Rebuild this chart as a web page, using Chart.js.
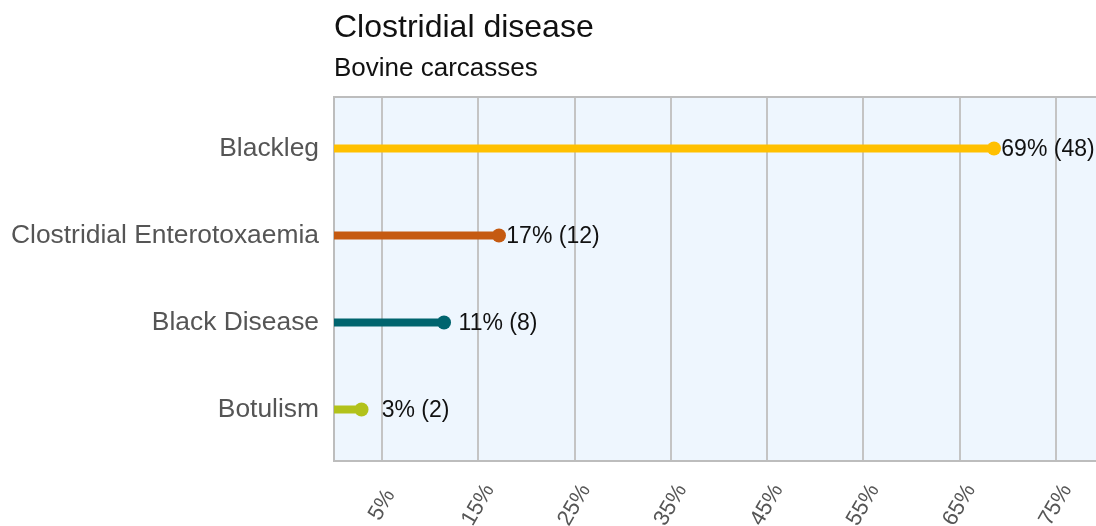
<!DOCTYPE html>
<html>
<head>
<meta charset="utf-8">
<script src="https://cdn.jsdelivr.net/npm/chart.js@4/dist/chart.umd.min.js"></script>
<style>
  html, body { margin: 0; padding: 0; overflow: hidden; background: #fff; }
  #wrap { position: absolute; left: 0; top: 0; width: 1120px; height: 526px; }
</style>
</head>
<body>
<div id="wrap"><canvas id="chart"></canvas></div>
<script>
// Clostridial disease findings in bovine carcasses
const categories = ['Blackleg', 'Clostridial Enterotoxaemia', 'Black Disease', 'Botulism'];
const counts = [48, 12, 8, 2];
const percents = [68.57, 17.14, 11.43, 2.86];
const xTickValues = [5, 15, 25, 35, 45, 55, 65, 75];
const seriesColors = ['#FFC000', '#C55A11', '#00646E', '#B2C21B'];

const FONT = "'Liberation Sans', Arial, Helvetica, sans-serif";

const datasets = categories.map((name, i) => ({
  label: name,
  data: [{ x: 0, y: i }, { x: percents[i], y: i }],
  showLine: true,
  borderColor: seriesColors[i],
  backgroundColor: seriesColors[i],
  borderWidth: 8,
  borderCapStyle: 'butt',
  pointRadius: [0, 7],
  pointHoverRadius: [0, 7],
  pointBorderWidth: 0,
  pointBackgroundColor: seriesColors[i]
}));

// plot panel background and the top / right frame lines
const panelPlugin = {
  id: 'panel',
  beforeDraw(chart) {
    const { ctx, chartArea: a } = chart;
    ctx.save();
    ctx.fillStyle = '#EEF6FE';
    ctx.fillRect(a.left, a.top, a.right - a.left, a.bottom - a.top);
    ctx.restore();
  },
  beforeDatasetsDraw(chart) {
    const { ctx, chartArea: a } = chart;
    ctx.save();
    ctx.strokeStyle = '#BDBDBD';
    ctx.lineWidth = 2;
    ctx.beginPath();
    ctx.moveTo(a.left, a.top);
    ctx.lineTo(a.right, a.top);
    ctx.lineTo(a.right, a.bottom);
    ctx.stroke();
    ctx.restore();
  }
};

// value labels next to each lollipop head
const valueLabelPlugin = {
  id: 'valueLabels',
  afterDatasetsDraw(chart) {
    const { ctx } = chart;
    ctx.save();
    ctx.font = '23px ' + FONT;
    ctx.fillStyle = '#111';
    ctx.textAlign = 'center';
    ctx.textBaseline = 'middle';
    chart.data.datasets.forEach((ds, i) => {
      const head = chart.getDatasetMeta(i).data[1];
      const text = Math.round(percents[i]) + '% (' + counts[i] + ')';
      ctx.fillText(text, head.x + 54, head.y + 1);
    });
    ctx.restore();
  }
};

// rotated percentage tick labels centred under the grid lines
const xLabelPlugin = {
  id: 'xLabels',
  afterDraw(chart) {
    const { ctx } = chart;
    const xs = chart.scales.x;
    ctx.save();
    ctx.font = '22px ' + FONT;
    ctx.fillStyle = '#555';
    ctx.textAlign = 'center';
    ctx.textBaseline = 'middle';
    xTickValues.forEach(v => {
      ctx.save();
      ctx.translate(xs.getPixelForValue(v), chart.chartArea.bottom + 44);
      ctx.rotate(-Math.PI / 3);
      ctx.fillText(v + '%', 0, 0);
      ctx.restore();
    });
    ctx.restore();
  }
};

// title and subtitle aligned with the plot panel
const headingPlugin = {
  id: 'heading',
  afterDraw(chart) {
    const { ctx, chartArea: a } = chart;
    ctx.save();
    ctx.fillStyle = '#111';
    ctx.textAlign = 'left';
    ctx.textBaseline = 'alphabetic';
    ctx.font = '32px ' + FONT;
    ctx.fillText('Clostridial disease', a.left, 37);
    ctx.font = '26px ' + FONT;
    ctx.fillText('Bovine carcasses', a.left, 76);
    ctx.restore();
  }
};

new Chart(document.getElementById('chart'), {
  type: 'scatter',
  data: { datasets },
  options: {
    responsive: true,
    maintainAspectRatio: false,
    animation: false,
    layout: { padding: { top: 97, right: 16, bottom: 0, left: 0 } },
    plugins: {
      legend: { display: false },
      tooltip: { enabled: false },
      title: { display: false }
    },
    scales: {
      x: {
        type: 'linear',
        position: 'bottom',
        min: 0,
        max: 80,
        afterBuildTicks: s => { s.ticks = xTickValues.map(v => ({ value: v })); },
        afterFit: s => { s.height = 65; },
        grid: { color: '#C4C4C4', lineWidth: 2, drawTicks: false },
        border: { display: true, color: '#BDBDBD', width: 2 },
        ticks: { display: false }
      },
      y: {
        type: 'linear',
        reverse: true,
        min: -0.592,
        max: 3.592,
        afterBuildTicks: s => { s.ticks = categories.map((c, i) => ({ value: i })); },
        afterFit: s => { s.width = 334; },
        grid: { display: false, drawTicks: false },
        border: { display: true, color: '#BDBDBD', width: 2 },
        ticks: {
          padding: 15,
          color: '#555',
          font: { family: FONT, size: 26.4 },
          callback: v => categories[v]
        }
      }
    }
  },
  plugins: [panelPlugin, valueLabelPlugin, xLabelPlugin, headingPlugin]
});
</script>
</body>
</html>
